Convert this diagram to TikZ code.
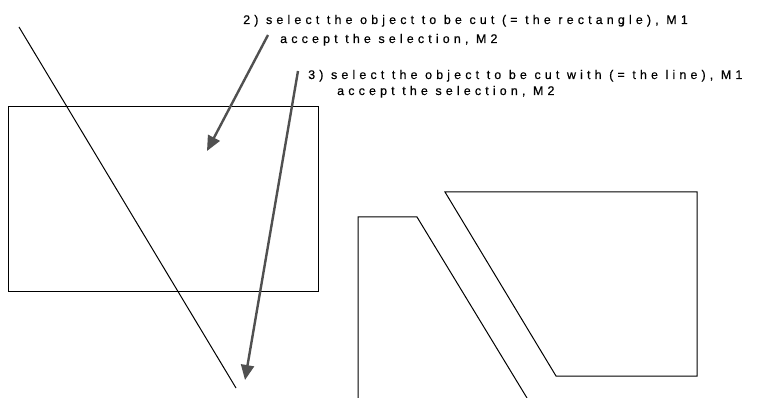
\documentclass[tikz,border=0pt]{standalone}
\usepackage{fontspec}
\setmainfont{Liberation Sans}
\newfontfamily\lblfont[LetterSpace=33,FakeBold=0.5]{Liberation Sans}
\usetikzlibrary{arrows.meta}
\begin{document}
\begin{tikzpicture}[x=1pt,y=-1pt,
  outline/.style={draw=black,line width=1pt,line join=miter},
  callout/.style={draw={rgb,255:red,80;green,80;blue,80},line width=2.4pt,
    -{Triangle[length=15pt,width=13pt]}},
  lbl/.style={anchor=base west,inner sep=0pt,font=\lblfont\fontsize{12.5}{14}\selectfont}]
\useasboundingbox (0,0) rectangle (758,398);
% original rectangle and cutting line
\draw[outline] (8,107) rectangle (318,291);
\draw[outline] (19,27) -- (236,388);
% result pieces
\draw[outline] (358,398) -- (358,217) -- (417,217) -- (527,398);
\draw[outline] (445,192) -- (697,192) -- (697,376) -- (556,376) -- cycle;
% labels
\node[lbl] (t2a) at (243,24) {2) select the object to be cut (= the rectangle), M1};
\node[lbl] (t2b) at (280,43) {accept the selection, M2};
\node[lbl] (t3a) at (308,79) {3) select the object to be cut with (= the line), M1};
\node[lbl] (t3b) at (337,95) {accept the selection, M2};
% arrows
\coordinate (s2) at (268,35);
\coordinate (e2) at (207,151);
\coordinate (s3) at (298,71);
\coordinate (e3) at (245,380);
\draw[callout] (s2) -- (e2);
\draw[callout] (s3) -- (e3);
\end{tikzpicture}
\end{document}
